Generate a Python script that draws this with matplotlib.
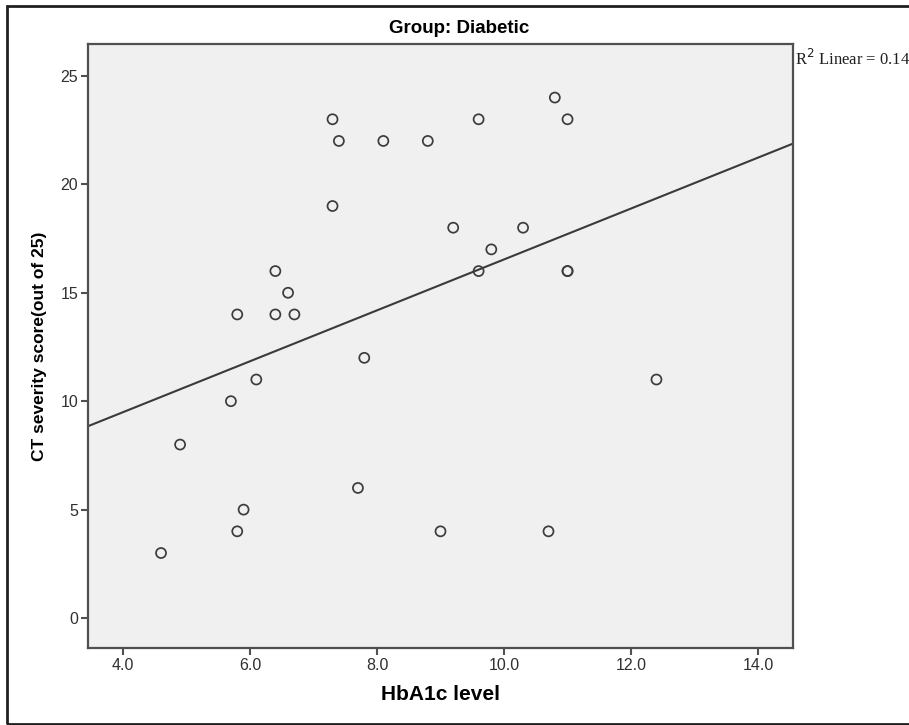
import numpy as np
import matplotlib
matplotlib.use("Agg")
import matplotlib.pyplot as plt
from matplotlib.patches import Rectangle

# Data
hba1c = [4.6, 4.9, 5.7, 5.8, 5.8, 5.9, 6.1, 6.4, 6.4, 6.6, 6.7, 7.3, 7.3, 7.4, 7.7,
         7.8, 8.1, 8.8, 9.0, 9.2, 9.6, 9.6, 9.8, 10.3, 10.7, 10.8, 11.0, 11.0, 11.0, 12.4]
ct_score = [3, 8, 10, 14, 4, 5, 11, 16, 14, 15, 14, 23, 19, 22, 6,
            12, 22, 22, 4, 18, 23, 16, 17, 18, 4, 24, 23, 16, 16, 11]
x_ticks = [4.0, 6.0, 8.0, 10.0, 12.0, 14.0]
y_ticks = [0, 5, 10, 15, 20, 25]
title = "Group: Diabetic"
x_label = "HbA1c level"
y_label = "CT severity score(out of 25)"
r2_text = r"R$^2$ Linear = 0.14"

fig = plt.figure(figsize=(9.09, 7.25), dpi=100)
fig.patch.set_facecolor("white")

# outer frame
fig.patches.append(Rectangle((0.0080, 0.0012), 1.05, 0.9905, transform=fig.transFigure,
                             fill=False, edgecolor="#202020", linewidth=2.0, zorder=0))

ax = fig.add_axes([0.0968, 0.1062, 0.8756 - 0.0968 - 0.0032, 0.9393 - 0.1062])
ax.set_facecolor("#F0F0F0")
ax.set_xlim(3.45, 14.55)
ax.set_ylim(-1.38, 26.47)

x = np.array(hba1c, dtype=float)
y = np.array(ct_score, dtype=float)
slope, intercept = np.polyfit(x, y, 1)
xl = np.array(ax.get_xlim())
ax.plot(xl, intercept + slope * xl, color="#3a3a3a", linewidth=1.5, zorder=2)
ax.set_xlim(3.45, 14.55)

ax.scatter(x, y, s=52, facecolors="none", edgecolors="#3c3c3c", linewidths=1.25, zorder=3)

for s in ax.spines.values():
    s.set_color("#505050")
    s.set_linewidth(1.6)

ax.set_xticks(x_ticks)
ax.set_xticklabels([f"{v:.1f}" for v in x_ticks])
ax.set_yticks(y_ticks)
ax.set_yticklabels([str(v) for v in y_ticks])
ax.tick_params(direction="out", length=5, width=1.5, color="#505050",
               labelsize=11.5, labelcolor="#303030", pad=2)
for lab in ax.get_xticklabels() + ax.get_yticklabels():
    lab.set_family("Liberation Sans")

ax.set_title(title, fontsize=13.5, fontweight="bold", family="Liberation Sans", pad=8,
             x=0.527)
ax.set_xlabel(x_label, fontsize=15, fontweight="bold", family="Liberation Sans", labelpad=9)
ax.set_ylabel(y_label, fontsize=12.5, fontweight="bold", family="Liberation Sans", labelpad=10)

ax.text(1.003, 0.975, r2_text, transform=ax.transAxes, ha="left", va="center",
        fontsize=12, family="Liberation Serif", color="#202020")

fig.savefig("out.png", dpi=100, facecolor="white")
